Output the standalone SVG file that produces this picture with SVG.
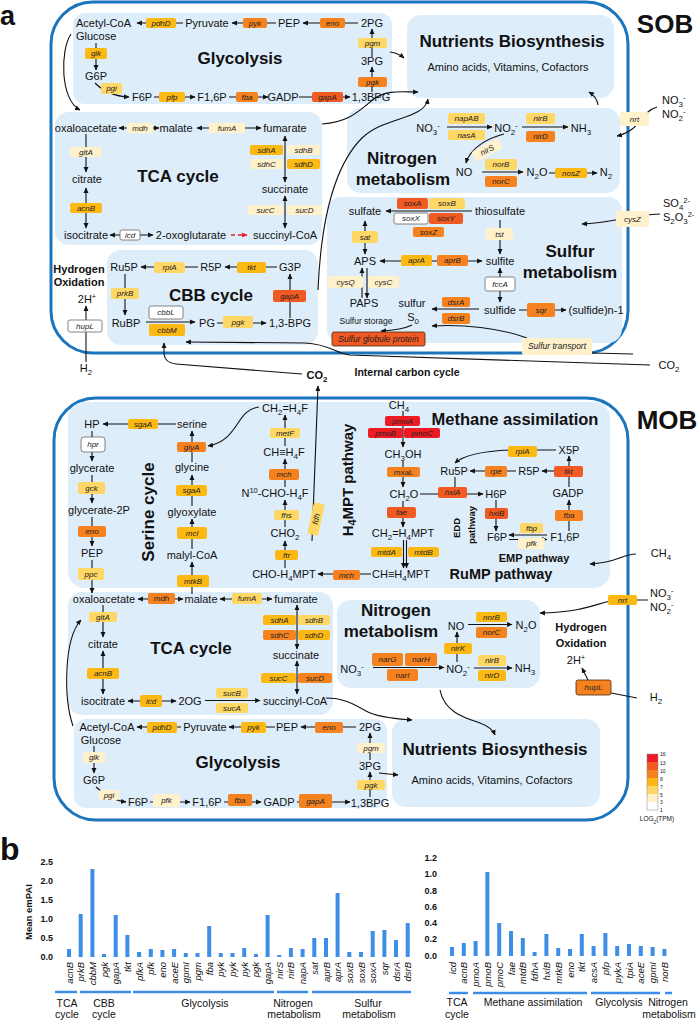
<svg xmlns="http://www.w3.org/2000/svg" width="699" height="1021" viewBox="0 0 699 1021">
<defs>
<style>
text{font-family:"Liberation Sans",Arial,sans-serif;fill:#111}
.t{font-size:11px}
.tm{font-size:11px;text-anchor:middle}
.h{font-size:17px;font-weight:bold;text-anchor:middle}
.hs{font-size:11px;font-weight:bold;text-anchor:middle}
.g{font-size:8px;font-style:italic;text-anchor:middle;fill:#222}
.sb{font-size:72%;baseline-shift:-3px}
.sp{font-size:68%;baseline-shift:4px}
.panel{fill:#deedfa}
.outer{fill:none;stroke:#1b75bc;stroke-width:3}
.c16{fill:#ed1c24}.c13{fill:#f15a22}.c10{fill:#f5821f}.c8{fill:#fdb913}.c7{fill:#fed765}.c5{fill:#fff1cc}.c3{fill:#fff;stroke:#666;stroke-width:0.8}
.dk{stroke:#4a2a10;stroke-width:0.8}
.ln{fill:none;stroke:#111;stroke-width:1.1}
.ar{marker-end:url(#a)}
.ab{marker-start:url(#a);marker-end:url(#a)}
.bar{fill:#3d8ee6}
.gl{stroke:#3d8ee6;stroke-width:2.5}
.bl{font-size:9.5px;font-style:italic;text-anchor:end}
.tk{font-size:9px;font-weight:bold;text-anchor:end}
.cat{font-size:10.5px;text-anchor:middle}
.lg{font-size:5px}
</style>
<marker id="a" viewBox="0 0 10 10" refX="9" refY="5" markerWidth="5.5" markerHeight="5.5" markerUnits="userSpaceOnUse" orient="auto-start-reverse"><path d="M0,0.5 L10,5 L0,9.5 z" fill="#111"/></marker>
<marker id="ar" viewBox="0 0 10 10" refX="9" refY="5" markerWidth="5.5" markerHeight="5.5" markerUnits="userSpaceOnUse" orient="auto"><path d="M0,0.5 L10,5 L0,9.5 z" fill="#e8202a"/></marker>
</defs>
<rect width="699" height="1021" fill="#fff"/>
<text x="0" y="24.5" style="font-size:27px;font-weight:bold">a</text>
<text x="665" y="33" style="font-size:26px;font-weight:bold;text-anchor:middle">SOB</text>
<text x="667" y="429" style="font-size:26px;font-weight:bold;text-anchor:middle">MOB</text>

<g id="panels">
<rect class="outer" x="51" y="2" width="577" height="351" rx="42"/>
<rect class="outer" x="54" y="398" width="574" height="422" rx="42"/>
<rect class="panel" x="73" y="13" width="319" height="91" rx="12"/>
<rect class="panel" x="407" y="15" width="207" height="83" rx="14"/>
<rect class="panel" x="55" y="112" width="267" height="133" rx="14"/>
<rect class="panel" x="107" y="250" width="211" height="95" rx="14"/>
<rect class="panel" x="347" y="108" width="273" height="85" rx="14"/>
<rect class="panel" x="327" y="197" width="295" height="146" rx="14"/>
<rect class="panel" x="68" y="402" width="542" height="186" rx="16"/>
<rect class="panel" x="68" y="592" width="265" height="123" rx="14"/>
<rect class="panel" x="337" y="600" width="203" height="88" rx="14"/>
<rect class="panel" x="74" y="719" width="313" height="89" rx="12"/>
<rect class="panel" x="392" y="719" width="208" height="88" rx="14"/>
</g>

<g id="connectors">
<path class="ln ar" d="M183,23 H137"/>
<path class="ln ar" d="M276,23 H232"/>
<path class="ln ar" d="M358,23 H303"/>
<path class="ln ar" d="M372,57 V29"/>
<path class="ln ar" d="M372,92 V67"/>
<path class="ln ar" d="M299,97 H350"/>
<path class="ln ar" d="M229,97 H268"/>
<path class="ln ar" d="M154,97 H195"/>
<path class="ln ar" d="M95,83 Q108,96 129,97"/>
<path class="ln ar" d="M96,43 V70"/>
<path class="ln ar" d="M71,34 C60,50 60,100 80,110"/>
<path class="ln ar" d="M390,52 Q398,53 404,58"/>
<path class="ln ar" d="M322,124 C350,122 360,110 375,98 C388,90 400,92 418,92"/>
<path class="ln ar" d="M318,290 C321,220 335,165 362,138 C385,116 424,120 428,99"/>
<path class="ln ar" d="M598,105 Q597,97 589,92"/>
<path class="ln ar" d="M657,107 C640,112 642,130 617,136"/>
<path class="ln ab" d="M159,128 H119"/>
<path class="ln ab" d="M197,128 H261"/>
<path class="ln ar" d="M86,134 V172"/>
<path class="ln ab" d="M86,188 V228"/>
<path class="ln ab" d="M110,235 H153"/>
<path d="M231,235 H247" fill="none" stroke="#e8202a" stroke-width="1.3" stroke-dasharray="4,3" marker-end="url(#ar)"/>
<path class="ln ab" d="M285,136 V182"/>
<path class="ln ab" d="M285,196 V228"/>
<path class="ln ar" d="M198,267 H141"/>
<path class="ln ar" d="M277,267 H225"/>
<path class="ln ar" d="M290,318 V274"/>
<path class="ln ar" d="M217,323 H266"/>
<path class="ln ar" d="M146,322 H195"/>
<path class="ln ar" d="M125,274 V315"/>
<path class="ln ar" d="M86,362 V306"/>
<path class="ln ar" d="M302,374 L176,364 Q165,363 164,354 L164,343"/>
<path class="ln ar" d="M650,365 L350,355 C336,354 330,344 305,343 L186,342"/>
<path class="ln ar" d="M312,541 L318,386"/>
<path class="ln ar" d="M472,211 H386"/>
<path class="ln ar" d="M500,220 V254"/>
<path class="ln ab" d="M365,221 V254"/>
<path class="ln ab" d="M380,261 H482"/>
<path class="ln ab" d="M500,268 V302"/>
<path class="ln ar" d="M479,309 H432"/>
<path class="ln ar" d="M519,310 H566"/>
<path class="ln ar" d="M362,298 V268"/>
<path class="ln ar" d="M367,268 V298"/>
<path class="ln ar" d="M412,325 Q402,330 381,331"/>
<path class="ln ar" d="M527,338 C500,328 462,324 432,326"/>
<path class="ln" d="M592,353 L633,354"/>
<path class="ln ar" d="M660,214 C630,215 612,223 582,224"/>
<path class="ln ar" d="M447,127 H492"/>
<path class="ln ar" d="M522,127 H568"/>
<path class="ln ar" d="M504,134 C488,138 470,148 466,163"/>
<path class="ln ar" d="M482,172 H523"/>
<path class="ln ar" d="M549,173 H597"/>
<path class="ln ar" d="M176,424 H103"/>
<path class="ln ar" d="M92,431 V461"/>
<path class="ln ar" d="M92,475 V503"/>
<path class="ln ar" d="M92,517 V546"/>
<path class="ln ar" d="M92,560 V593"/>
<path class="ln ar" d="M192,462 V431"/>
<path class="ln ar" d="M192,506 V475"/>
<path class="ln ar" d="M192,549 V519"/>
<path class="ln ar" d="M192,594 V562"/>
<path class="ln ar" d="M259,407 C235,410 240,440 208,446"/>
<path class="ln ar" d="M285,568 V541"/>
<path class="ln ar" d="M285,527 V500"/>
<path class="ln ar" d="M285,487 V459"/>
<path class="ln ar" d="M285,446 V415"/>
<path class="ln ar" d="M371,574 H318"/>
<path class="ln ar" d="M403.5,540 V568"/>
<path class="ln ar" d="M406.5,540 V568"/>
<path class="ln ar" d="M403,411 V447"/>
<path class="ln ar" d="M403,461 V487"/>
<path class="ln ar" d="M403,501 V527"/>
<path class="ln ar" d="M420,494 H483"/>
<path class="ln" d="M455,477 V490"/>
<path class="ln ar" d="M496,500 V531"/>
<path class="ln ar" d="M547,535 H509"/>
<path class="ln ar" d="M509,539.5 H547"/>
<path class="ln ar" d="M569,531 V500"/>
<path class="ln" d="M569,487 V471"/>
<path class="ln ar" d="M556,471 H542"/>
<path class="ln ar" d="M569,466 V456"/>
<path class="ln ar" d="M516,471 H470"/>
<path class="ln ar" d="M556,450 L510,450 C485,451 465,454 455,463"/>
<path class="ln ar" d="M636,554 C622,554 618,563 590,564"/>
<path class="ln ar" d="M648,600 L620,600 C600,600 592,612 540,613"/>
<path class="ln ab" d="M183,599 H138"/>
<path class="ln ab" d="M220,599 H272"/>
<path class="ln ar" d="M103,605 V637"/>
<path class="ln ab" d="M103,651 V694"/>
<path class="ln ab" d="M128,701 H176"/>
<path class="ln ar" d="M205,700.5 H260"/>
<path class="ln ab" d="M297,694 V661"/>
<path class="ln ab" d="M297,649 V605"/>
<path class="ln ar" d="M326,698 C345,698 355,705 368,712 C380,718 400,719 412,720"/>
<path class="ln ar" d="M73,726 C64,700 63,640 81,620"/>
<path class="ln ar" d="M373,667.5 H444"/>
<path class="ln ar" d="M474,668 H512"/>
<path class="ln ar" d="M457,662 V632"/>
<path class="ln ar" d="M468,624.5 H512"/>
<path class="ln ar" d="M440,690 C444,712 465,718 480,723 C488,726 493,730 495,735"/>
<path class="ln ar" d="M588,680 L582,668"/>
<path class="ln" d="M637,698 L611,693"/>
<path class="ln ar" d="M181,727 H137"/>
<path class="ln ar" d="M275,727 H229"/>
<path class="ln ar" d="M356,727 H301"/>
<path class="ln ar" d="M370,760 V733"/>
<path class="ln ar" d="M370,797 V772"/>
<path class="ln ar" d="M379,773 L398,775"/>
<path class="ln ar" d="M297,802 H350"/>
<path class="ln ar" d="M224,802 H261"/>
<path class="ln ar" d="M150,802 H190"/>
<path class="ln ar" d="M96,787 Q110,800 126,802"/>
<path class="ln ar" d="M94,746 V773"/>
</g>

<g id="sob-glycolysis">
<text class="h" x="240" y="64">Glycolysis</text>
<text class="t" x="76" y="27">Acetyl-CoA</text>
<text class="tm" x="207" y="27">Pyruvate</text>
<text class="tm" x="289" y="27">PEP</text>
<text class="tm" x="372" y="27">2PG</text>
<text class="tm" x="372" y="65">3PG</text>
<text class="tm" x="371" y="101">1,3BPG</text>
<text class="t" x="76" y="40">Glucose</text>
<text class="tm" x="96" y="80">G6P</text>
<text class="tm" x="142" y="101">F6P</text>
<text class="tm" x="212" y="101">F1,6P</text>
<text class="tm" x="283" y="101">GADP</text>
<g id="sob-pdhD"><rect class="c8" x="146" y="18" width="30" height="10" rx="2"/><text class="g" x="161" y="25.8">pdhD</text></g>
<g id="sob-pyk"><rect class="c10" x="243" y="18" width="24" height="10" rx="2"/><text class="g" x="255" y="25.8">pyk</text></g>
<g id="sob-eno"><rect class="c10" x="320" y="18" width="25" height="10" rx="2"/><text class="g" x="332.5" y="25.8">eno</text></g>
<g id="sob-pgm"><rect class="c7" x="358" y="38" width="29" height="10" rx="2"/><text class="g" x="372.5" y="45.8">pgm</text></g>
<g id="sob-pgk"><rect class="c10" x="358" y="77" width="29" height="10" rx="2"/><text class="g" x="372.5" y="84.8">pgk</text></g>
<g id="sob-glk"><rect class="c8" x="85" y="48" width="22" height="11" rx="2"/><text class="g" x="96" y="56.3">glk</text></g>
<g id="sob-pgi"><rect class="c7" x="101" y="83" width="21" height="11" rx="2"/><text class="g" x="111.5" y="91.3">pgi</text></g>
<g id="sob-pfp"><rect class="c8" x="159" y="92" width="26" height="10" rx="2"/><text class="g" x="172" y="99.8">pfp</text></g>
<g id="sob-fba"><rect class="c10" x="236" y="92" width="22" height="10" rx="2"/><text class="g" x="247" y="99.8">fba</text></g>
<g id="sob-gapA"><rect class="c13" x="312" y="92" width="31" height="10" rx="2"/><text class="g" x="327.5" y="99.8">gapA</text></g>
</g>

<g id="sob-nutrients">
<text class="h" x="512" y="47">Nutrients Biosynthesis</text>
<text class="tm" x="508" y="71">Amino acids, Vitamins, Cofactors</text>
</g>

<g id="sob-tca">
<text class="h" x="178" y="182">TCA cycle</text>
<text class="tm" x="86" y="132">oxaloacetate</text>
<text class="tm" x="176" y="132">malate</text>
<text class="tm" x="285" y="132">fumarate</text>
<text class="tm" x="87" y="183">citrate</text>
<text class="tm" x="86" y="239">isocitrate</text>
<text class="tm" x="191" y="239">2-oxoglutarate</text>
<text class="tm" x="285" y="239">succinyl-CoA</text>
<text class="tm" x="285" y="193">succinate</text>
<g id="sob-mdh"><rect class="c5" x="127" y="123" width="26" height="10" rx="2"/><text class="g" x="140" y="130.8">mdh</text></g>
<g id="sob-fumA"><rect class="c5" x="209" y="123" width="36" height="10" rx="2"/><text class="g" x="227" y="130.8">fumA</text></g>
<g id="sob-gltA"><rect class="c5" x="70" y="147" width="32" height="10" rx="2"/><text class="g" x="86" y="154.8">gltA</text></g>
<g id="sob-acnB"><rect class="c8" x="70" y="203" width="32" height="10" rx="2"/><text class="g" x="86" y="210.8">acnB</text></g>
<g id="sob-icd"><rect class="c3" x="120" y="230" width="20" height="10" rx="2"/><text class="g" x="130" y="237.8">icd</text></g>
<g id="sob-sdh"><rect class="c8" x="250" y="145" width="33" height="10" rx="2"/><text class="g" x="266.5" y="152.8">sdhA</text>
<rect class="c5" x="287" y="145" width="33" height="10" rx="2"/><text class="g" x="303.5" y="152.8">sdhB</text>
<rect class="c5" x="250" y="159" width="33" height="10" rx="2"/><text class="g" x="266.5" y="166.8">sdhC</text>
<rect class="c8" x="287" y="159" width="33" height="10" rx="2"/><text class="g" x="303.5" y="166.8">sdhD</text></g>
<g id="sob-suc"><rect class="c5" x="248" y="205" width="35" height="10" rx="2"/><text class="g" x="265.5" y="212.8">sucC</text>
<rect class="c5" x="287" y="205" width="35" height="10" rx="2"/><text class="g" x="304.5" y="212.8">sucD</text></g>
</g>

<g id="sob-cbb">
<text class="h" x="211" y="301">CBB cycle</text>
<text class="tm" x="124" y="271">Ru5P</text>
<text class="tm" x="211" y="271">R5P</text>
<text class="tm" x="290" y="271">G3P</text>
<text class="tm" x="290" y="327">1,3-BPG</text>
<text class="tm" x="207" y="327">PG</text>
<text class="tm" x="126" y="327">RuBP</text>
<g id="sob-rpiA"><rect class="c7" x="154" y="262" width="31" height="11" rx="2"/><text class="g" x="169.5" y="270.3">rpiA</text></g>
<g id="sob-tkt"><rect class="c8" x="237" y="262" width="29" height="11" rx="2"/><text class="g" x="251.5" y="270.3">tkt</text></g>
<g id="sob-gapA2"><rect class="c13" x="273" y="290" width="33" height="12" rx="2"/><text class="g" x="289.5" y="298.8">gapA</text></g>
<g id="sob-pgk2"><rect class="c7" x="223" y="316" width="30" height="12" rx="2"/><text class="g" x="238" y="324.8">pgk</text></g>
<g id="sob-cbbL"><rect class="c3" x="149" y="306" width="34" height="13" rx="2"/><text class="g" x="166" y="315.3">cbbL</text></g>
<g id="sob-cbbM"><rect class="c8" x="149" y="324" width="36" height="12" rx="2"/><text class="g" x="167" y="332.8">cbbM</text></g>
<g id="sob-prkB"><rect class="c7" x="111" y="288" width="28" height="11" rx="2"/><text class="g" x="125" y="296.3">prkB</text></g>
</g>

<g id="sob-hydrogen">
<text class="hs" x="79" y="273">Hydrogen</text>
<text class="hs" x="79" y="286">Oxidation</text>
<text class="tm" x="87" y="303">2H<tspan class="sp">+</tspan></text>
<text class="tm" x="86" y="372">H<tspan class="sb">2</tspan></text>
<g id="sob-hupL"><rect class="c3" x="68" y="320" width="34" height="12" rx="2"/><text class="g" x="85" y="328.8">hupL</text></g>
</g>

<g id="carbon">
<text class="hs" x="317" y="379">CO<tspan class="sb">2</tspan></text>
<text class="hs" x="407" y="376" style="font-size:10.5px">Internal carbon cycle</text>
<text class="tm" x="669" y="369">CO<tspan class="sb">2</tspan></text>
</g>

<g id="sob-nitrogen">
<text class="h" x="402" y="164">Nitrogen</text>
<text class="h" x="403" y="185">metabolism</text>
<text class="tm" x="428" y="132">NO<tspan class="sb">3</tspan><tspan class="sp">-</tspan></text>
<text class="tm" x="506" y="132">NO<tspan class="sb">2</tspan><tspan class="sp">-</tspan></text>
<text class="tm" x="581" y="132">NH<tspan class="sb">3</tspan></text>
<text class="tm" x="464" y="176">NO</text>
<text class="tm" x="537" y="176">N<tspan class="sb">2</tspan>O</text>
<text class="tm" x="606" y="176">N<tspan class="sb">2</tspan></text>
<text class="t" x="662" y="104">NO<tspan class="sb">3</tspan><tspan class="sp">-</tspan></text>
<text class="t" x="662" y="118">NO<tspan class="sb">2</tspan><tspan class="sp">-</tspan></text>
<g id="sob-napAB"><rect class="c7" x="448" y="113" width="37" height="11" rx="2"/><text class="g" x="466.5" y="121.3">napAB</text></g>
<g id="sob-nasA"><rect class="c7" x="448" y="130" width="37" height="10" rx="2"/><text class="g" x="466.5" y="137.8">nasA</text></g>
<g id="sob-nirB"><rect class="c7" x="526" y="113" width="29" height="11" rx="2"/><text class="g" x="540.5" y="121.3">nirB</text></g>
<g id="sob-nirD"><rect class="c10" x="526" y="131" width="29" height="11" rx="2"/><text class="g" x="540.5" y="139.3">nirD</text></g>
<g id="sob-nirS" transform="translate(487,150) rotate(-28)"><rect class="c5" x="-15" y="-5.5" width="30" height="11" rx="2"/><text class="g" x="0" y="2.8">nirS</text></g>
<g id="sob-norB"><rect class="c7" x="485" y="159" width="32" height="11" rx="2"/><text class="g" x="501" y="167.3">norB</text></g>
<g id="sob-norC"><rect class="c10" x="485" y="176" width="32" height="11" rx="2"/><text class="g" x="501" y="184.3">norC</text></g>
<g id="sob-nosZ"><rect class="c8" x="555" y="168" width="32" height="10" rx="2"/><text class="g" x="571" y="175.8">nosZ</text></g>
<g id="sob-nrt"><rect class="c5" x="620" y="112" width="29" height="14" rx="2"/><text class="g" x="634.5" y="121.8">nrt</text></g>
</g>

<g id="sob-sulfur">
<text class="h" x="570" y="257">Sulfur</text>
<text class="h" x="570" y="278">metabolism</text>
<text class="tm" x="365" y="215">sulfate</text>
<text class="tm" x="500" y="215">thiosulfate</text>
<text class="tm" x="500" y="265">sulfite</text>
<text class="tm" x="365" y="265">APS</text>
<text class="tm" x="364" y="307">PAPS</text>
<text class="tm" x="412" y="307">sulfur</text>
<text class="tm" x="413" y="321">S<tspan class="sb">0</tspan></text>
<text class="tm" x="500" y="314">sulfide</text>
<text class="tm" x="596" y="314">(sulfide)n-1</text>
<text x="366" y="324" style="font-size:8.5px;text-anchor:middle">Sulfur storage</text>
<text class="t" x="663" y="207">SO<tspan class="sb">4</tspan><tspan class="sp">2-</tspan></text>
<text class="t" x="663" y="221">S<tspan class="sb">2</tspan>O<tspan class="sb">3</tspan><tspan class="sp">2-</tspan></text>
<g id="sob-soxA"><rect class="c13" x="397" y="198" width="31" height="11" rx="2"/><text class="g" x="412.5" y="206.3">soxA</text></g>
<g id="sob-soxB"><rect class="c7" x="429" y="198" width="36" height="11" rx="2"/><text class="g" x="447" y="206.3">soxB</text></g>
<g id="sob-soxX"><rect class="c3" x="394" y="213" width="34" height="11" rx="2"/><text class="g" x="411" y="221.3">soxX</text></g>
<g id="sob-soxY"><rect class="c13" x="429" y="213" width="34" height="11" rx="2"/><text class="g" x="446" y="221.3">soxY</text></g>
<g id="sob-soxZ"><rect class="c10" x="413" y="227" width="31" height="10" rx="2"/><text class="g" x="428.5" y="234.8">soxZ</text></g>
<g id="sob-tst"><rect class="c5" x="486" y="228" width="27" height="12" rx="2"/><text class="g" x="499.5" y="236.8">tst</text></g>
<g id="sob-sat"><rect class="c7" x="352" y="231" width="26" height="12" rx="2"/><text class="g" x="365" y="239.8">sat</text></g>
<g id="sob-aprA"><rect class="c8" x="401" y="255" width="31" height="11" rx="2"/><text class="g" x="416.5" y="263.3">aprA</text></g>
<g id="sob-aprB"><rect class="c10" x="437" y="255" width="31" height="11" rx="2"/><text class="g" x="452.5" y="263.3">aprB</text></g>
<g id="sob-fccA"><rect class="c3" x="485" y="277" width="30" height="14" rx="2"/><text class="g" x="500" y="286.8">fccA</text></g>
<g id="sob-cysQ"><rect class="c5" x="328" y="276" width="35" height="12" rx="2"/><text class="g" x="345.5" y="284.8">cysQ</text></g>
<g id="sob-cysC"><rect class="c5" x="368" y="276" width="31" height="12" rx="2"/><text class="g" x="383.5" y="284.8">cysC</text></g>
<g id="sob-dsrA"><rect class="c10" x="442" y="297" width="28" height="10" rx="2"/><text class="g" x="456" y="304.8">dsrA</text></g>
<g id="sob-dsrB"><rect class="c10" x="442" y="313" width="28" height="11" rx="2"/><text class="g" x="456" y="321.3">dsrB</text></g>
<g id="sob-sqr"><rect class="c10" x="527" y="303" width="28" height="14" rx="2"/><text class="g" x="541" y="312.8">sqr</text></g>
<g id="sob-globule"><rect class="c13 dk" x="332" y="332" width="93" height="14" rx="2"/><text class="g" x="378.5" y="342" style="font-size:8.5px">Sulfur globule protein</text></g>
<g id="sob-cysZ"><rect class="c5" x="616" y="211" width="33" height="16" rx="2"/><text class="g" x="632.5" y="221.8">cysZ</text></g>
<g id="sob-transport"><rect class="c5" x="522" y="338" width="70" height="17" rx="2"/><text class="g" x="557" y="349.3" style="font-size:8.5px">Sulfur transport</text></g>
</g>

<g id="mob-serine">
<text class="h" transform="translate(154,512) rotate(-90)">Serine cycle</text>
<text class="tm" x="92" y="428">HP</text>
<text class="tm" x="192" y="428">serine</text>
<text class="tm" x="92" y="472">glycerate</text>
<text class="tm" x="99" y="514">glycerate-2P</text>
<text class="tm" x="92" y="557">PEP</text>
<text class="tm" x="192" y="471">glycine</text>
<text class="tm" x="192" y="516">glyoxylate</text>
<text class="tm" x="192" y="559">malyl-CoA</text>
<g id="mob-sgaA"><rect class="c8" x="128" y="419" width="30" height="10" rx="2"/><text class="g" x="143" y="426.8">sgaA</text></g>
<g id="mob-hpr"><rect class="c3" x="81" y="437" width="24" height="15" rx="3"/><text class="g" x="93" y="447.3">hpr</text></g>
<g id="mob-gck"><rect class="c7" x="78" y="482" width="27" height="12" rx="2"/><text class="g" x="91.5" y="490.8">gck</text></g>
<g id="mob-eno"><rect class="c10" x="78" y="526" width="28" height="11" rx="2"/><text class="g" x="92" y="534.3">eno</text></g>
<g id="mob-ppc"><rect class="c7" x="78" y="568" width="26" height="12" rx="2"/><text class="g" x="91" y="576.8">ppc</text></g>
<g id="mob-glyA"><rect class="c10" x="177" y="442" width="29" height="10" rx="2"/><text class="g" x="191.5" y="449.8">glyA</text></g>
<g id="mob-sgaA2"><rect class="c8" x="176" y="485" width="31" height="11" rx="2"/><text class="g" x="191.5" y="493.3">sgaA</text></g>
<g id="mob-mcl"><rect class="c8" x="177" y="527" width="30" height="12" rx="2"/><text class="g" x="192" y="535.8">mcl</text></g>
<g id="mob-mtkB"><rect class="c8" x="177" y="575" width="32" height="12" rx="2"/><text class="g" x="193" y="583.8">mtkB</text></g>
</g>

<g id="mob-h4mpt">
<text class="h" transform="translate(353,480) rotate(-90)" style="font-size:15px">H<tspan class="sb">4</tspan>MPT pathway</text>
<text class="tm" x="285" y="412">CH<tspan class="sb">2</tspan>=H<tspan class="sb">4</tspan>F</text>
<text class="tm" x="284" y="456">CH≡H<tspan class="sb">4</tspan>F</text>
<text class="tm" x="275" y="497">N<tspan class="sp">10</tspan>-CHO-H<tspan class="sb">4</tspan>F</text>
<text class="tm" x="285" y="537">CHO<tspan class="sb">2</tspan></text>
<text class="tm" x="284" y="578">CHO-H<tspan class="sb">4</tspan>MPT</text>
<text class="tm" x="401" y="578">CH≡H<tspan class="sb">4</tspan>MPT</text>
<g id="mob-metF"><rect class="c7" x="270" y="428" width="30" height="10" rx="2"/><text class="g" x="285" y="435.8">metF</text></g>
<g id="mob-mch"><rect class="c10" x="269" y="469" width="30" height="11" rx="2"/><text class="g" x="284" y="477.3">mch</text></g>
<g id="mob-fhs"><rect class="c7" x="274" y="510" width="25" height="10" rx="2"/><text class="g" x="286.5" y="517.8">fhs</text></g>
<g id="mob-ftr"><rect class="c8" x="275" y="550" width="23" height="10" rx="2"/><text class="g" x="286.5" y="557.8">ftr</text></g>
<g id="mob-fdh" transform="translate(316,519) rotate(-78)"><rect class="c7" x="-16" y="-5.5" width="32" height="11" rx="2"/><text class="g" x="0" y="2.8">fdh</text></g>
<g id="mob-mch2"><rect class="c10" x="333" y="570" width="27" height="10" rx="2"/><text class="g" x="346.5" y="577.8">mch</text></g>
</g>

<g id="mob-methane">
<text class="h" x="515" y="425" style="font-size:16.5px">Methane assimilation</text>
<text class="tm" x="399" y="409">CH<tspan class="sb">4</tspan></text>
<text class="tm" x="403" y="458">CH<tspan class="sb">3</tspan>OH</text>
<text class="tm" x="404" y="498">CH<tspan class="sb">2</tspan>O</text>
<text class="tm" x="403" y="537">CH<tspan class="sb">2</tspan>=H<tspan class="sb">4</tspan>MPT</text>
<text class="tm" x="454" y="475">Ru5P</text>
<text class="tm" x="529" y="475">R5P</text>
<text class="tm" x="569" y="454">X5P</text>
<text class="tm" x="496" y="498">H6P</text>
<text class="tm" x="568" y="497">GADP</text>
<text class="tm" x="497" y="541">F6P</text>
<text class="tm" x="565" y="541">F1,6P</text>
<text class="hs" transform="translate(460,528) rotate(-90)" style="font-size:9.5px">EDD</text>
<text class="hs" transform="translate(475,525) rotate(-90)" style="font-size:9.5px">pathway</text>
<text class="hs" x="534" y="562">EMP pathway</text>
<text class="h" x="501" y="579" style="font-size:14.5px">RuMP pathway</text>
<text class="tm" x="661" y="557">CH<tspan class="sb">4</tspan></text>
<text class="t" x="650" y="597">NO<tspan class="sb">3</tspan><tspan class="sp">-</tspan></text>
<text class="t" x="650" y="611">NO<tspan class="sb">2</tspan><tspan class="sp">-</tspan></text>
<g id="mob-pmo"><rect class="c16" x="385" y="416" width="35" height="10" rx="2"/><text class="g" x="402.5" y="423.8">pmoA</text>
<rect class="c16" x="368" y="428" width="35" height="10" rx="2"/><text class="g" x="385.5" y="435.8">pmoB</text>
<rect class="c16" x="404" y="428" width="36" height="10" rx="2"/><text class="g" x="422" y="435.8">pmoC</text></g>
<g id="mob-mxaL"><rect class="c10" x="387" y="467" width="33" height="10" rx="2"/><text class="g" x="403.5" y="474.8">mxaL</text></g>
<g id="mob-fae"><rect class="c13" x="387" y="507" width="29" height="11" rx="2"/><text class="g" x="401.5" y="515.3">fae</text></g>
<g id="mob-mtd"><rect class="c8" x="371" y="547" width="31" height="10" rx="2"/><text class="g" x="386.5" y="554.8">mtdA</text>
<rect class="c8" x="408" y="547" width="31" height="10" rx="2"/><text class="g" x="423.5" y="554.8">mtdB</text></g>
<g id="mob-hxlA"><rect class="c13" x="438" y="487" width="29" height="11" rx="2"/><text class="g" x="452.5" y="495.3">hxlA</text></g>
<g id="mob-hxlB"><rect class="c13" x="485" y="508" width="23" height="11" rx="2"/><text class="g" x="496.5" y="516.3">hxlB</text></g>
<g id="mob-rpe"><rect class="c10" x="485" y="466" width="22" height="11" rx="2"/><text class="g" x="496" y="474.3">rpe</text></g>
<g id="mob-tkt"><rect class="c13" x="554" y="466" width="29" height="11" rx="2"/><text class="g" x="568.5" y="474.3">tkt</text></g>
<g id="mob-rpiA"><rect class="c8" x="508" y="446" width="29" height="11" rx="2"/><text class="g" x="522.5" y="454.3">rpiA</text></g>
<g id="mob-fba"><rect class="c10" x="555" y="510" width="28" height="11" rx="2"/><text class="g" x="569" y="518.3">fba</text></g>
<g id="mob-fbp"><rect class="c7" x="520" y="523" width="23" height="10" rx="2"/><text class="g" x="531.5" y="530.8">fbp</text></g>
<g id="mob-pfk"><rect class="c5" x="518" y="538" width="27" height="11" rx="2"/><text class="g" x="531.5" y="546.3">pfk</text></g>
<g id="mob-nrt"><rect class="c8" x="608" y="595" width="29" height="10" rx="2"/><text class="g" x="622.5" y="602.8">nrt</text></g>
</g>

<g id="mob-tca">
<text class="h" x="191" y="654">TCA cycle</text>
<text class="tm" x="104" y="603">oxaloacetate</text>
<text class="tm" x="201" y="603">malate</text>
<text class="tm" x="296" y="603">fumarate</text>
<text class="tm" x="103" y="648">citrate</text>
<text class="tm" x="103" y="705">isocitrate</text>
<text class="tm" x="190" y="705">2OG</text>
<text class="tm" x="295" y="705">succinyl-CoA</text>
<text class="tm" x="296" y="659">succinate</text>
<g id="mob-mdh"><rect class="c10" x="148" y="593" width="27" height="11" rx="2"/><text class="g" x="161.5" y="601.3">mdh</text></g>
<g id="mob-fumA"><rect class="c7" x="232" y="593" width="30" height="11" rx="2"/><text class="g" x="247" y="601.3">fumA</text></g>
<g id="mob-gltA"><rect class="c7" x="89" y="612" width="28" height="10" rx="2"/><text class="g" x="103" y="619.8">gltA</text></g>
<g id="mob-acnB"><rect class="c8" x="87" y="668" width="32" height="11" rx="2"/><text class="g" x="103" y="676.3">acnB</text></g>
<g id="mob-icd"><rect class="c8" x="140" y="695" width="22" height="12" rx="2"/><text class="g" x="151" y="703.8">icd</text></g>
<g id="mob-sucAB"><rect class="c7" x="216" y="688" width="32" height="10" rx="2"/><text class="g" x="232" y="695.8">sucB</text>
<rect class="c7" x="216" y="703" width="32" height="10" rx="2"/><text class="g" x="232" y="710.8">sucA</text></g>
<g id="mob-sucCD"><rect class="c8" x="261" y="673" width="35" height="10" rx="2"/><text class="g" x="278.5" y="680.8">sucC</text>
<rect class="c10" x="298" y="673" width="34" height="10" rx="2"/><text class="g" x="315" y="680.8">sucD</text></g>
<g id="mob-sdh"><rect class="c8" x="263" y="615" width="33" height="10" rx="2"/><text class="g" x="279.5" y="622.8">sdhA</text>
<rect class="c7" x="298" y="615" width="32" height="10" rx="2"/><text class="g" x="314" y="622.8">sdhB</text>
<rect class="c10" x="263" y="630" width="33" height="10" rx="2"/><text class="g" x="279.5" y="637.8">sdhC</text>
<rect class="c8" x="298" y="630" width="32" height="10" rx="2"/><text class="g" x="314" y="637.8">sdhD</text></g>
</g>

<g id="mob-nitrogen">
<text class="h" x="396" y="616">Nitrogen</text>
<text class="h" x="391" y="637">metabolism</text>
<text class="tm" x="456" y="630">NO</text>
<text class="tm" x="526" y="629">N<tspan class="sb">2</tspan>O</text>
<text class="tm" x="352" y="673">NO<tspan class="sb">3</tspan><tspan class="sp">-</tspan></text>
<text class="tm" x="458" y="673">NO<tspan class="sb">2</tspan><tspan class="sp">-</tspan></text>
<text class="tm" x="525" y="672">NH<tspan class="sb">3</tspan></text>
<g id="mob-norBC"><rect class="c8" x="476" y="612" width="31" height="10" rx="2"/><text class="g" x="491.5" y="619.8">norB</text>
<rect class="c10" x="476" y="627" width="31" height="11" rx="2"/><text class="g" x="491.5" y="635.3">norC</text></g>
<g id="mob-nirK"><rect class="c8" x="444" y="643" width="28" height="11" rx="2"/><text class="g" x="458" y="651.3">nirK</text></g>
<g id="mob-nar"><rect class="c10" x="372" y="653" width="31" height="13" rx="2"/><text class="g" x="387.5" y="662.3">narG</text>
<rect class="c10" x="405" y="653" width="32" height="13" rx="2"/><text class="g" x="421" y="662.3">narH</text>
<rect class="c10" x="387" y="669" width="31" height="12" rx="2"/><text class="g" x="402.5" y="677.8">narI</text></g>
<g id="mob-nirBD"><rect class="c7" x="478" y="655" width="28" height="11" rx="2"/><text class="g" x="492" y="663.3">nirB</text>
<rect class="c8" x="478" y="670" width="28" height="11" rx="2"/><text class="g" x="492" y="678.3">nirD</text></g>
</g>

<g id="mob-hydrogen">
<text class="hs" x="581" y="631">Hydrogen</text>
<text class="hs" x="581" y="647">Oxidation</text>
<text class="tm" x="576" y="664">2H<tspan class="sp">+</tspan></text>
<text class="tm" x="656" y="701">H<tspan class="sb">2</tspan></text>
<g id="mob-hupL"><rect class="c10 dk" x="576" y="680" width="35" height="15" rx="2"/><text class="g" x="593.5" y="690.3">hupL</text></g>
</g>

<g id="mob-glycolysis">
<text class="h" x="238" y="768">Glycolysis</text>
<text class="tm" x="107" y="731">Acetyl-CoA</text>
<text class="tm" x="205" y="731">Pyruvate</text>
<text class="tm" x="287" y="731">PEP</text>
<text class="tm" x="370" y="731">2PG</text>
<text class="tm" x="370" y="770">3PG</text>
<text class="tm" x="370" y="807">1,3BPG</text>
<text class="tm" x="101" y="744">Glucose</text>
<text class="tm" x="94" y="784">G6P</text>
<text class="tm" x="138" y="806">F6P</text>
<text class="tm" x="207" y="806">F1,6P</text>
<text class="tm" x="279" y="806">GADP</text>
<g id="mob-pdhD"><rect class="c8" x="147" y="722" width="30" height="11" rx="2"/><text class="g" x="162" y="730.3">pdhD</text></g>
<g id="mob-pyk"><rect class="c8" x="241" y="722" width="25" height="11" rx="2"/><text class="g" x="253.5" y="730.3">pyk</text></g>
<g id="mob-eno2"><rect class="c10" x="315" y="722" width="28" height="11" rx="2"/><text class="g" x="329" y="730.3">eno</text></g>
<g id="mob-pgm"><rect class="c5" x="357" y="743" width="28" height="10" rx="2"/><text class="g" x="371" y="750.8">pgm</text></g>
<g id="mob-pgk"><rect class="c7" x="357" y="780" width="28" height="10" rx="2"/><text class="g" x="371" y="787.8">pgk</text></g>
<g id="mob-glk"><rect class="c5" x="83" y="752" width="22" height="11" rx="2"/><text class="g" x="94" y="760.3">glk</text></g>
<g id="mob-pgi"><rect class="c5" x="99" y="790" width="20" height="10" rx="2"/><text class="g" x="109" y="797.8">pgi</text></g>
<g id="mob-pfk2"><rect class="c5" x="153" y="794" width="27" height="13" rx="2"/><text class="g" x="166.5" y="803.3">pfk</text></g>
<g id="mob-fba2"><rect class="c10" x="228" y="794" width="24" height="12" rx="2"/><text class="g" x="240" y="802.8">fba</text></g>
<g id="mob-gapA"><rect class="c10" x="299" y="794" width="33" height="14" rx="2"/><text class="g" x="315.5" y="803.8">gapA</text></g>
</g>

<g id="mob-nutrients">
<text class="h" x="495" y="755">Nutrients Biosynthesis</text>
<text class="tm" x="492" y="784">Amino acids, Vitamins, Cofactors</text>
</g>

<g id="legend">
<rect class="c16" x="647" y="754" width="11" height="8"/>
<rect class="c13" x="647" y="762" width="11" height="8"/>
<rect class="c10" x="647" y="770" width="11" height="8"/>
<rect class="c8" x="647" y="778" width="11" height="8"/>
<rect class="c7" x="647" y="786" width="11" height="8"/>
<rect class="c5" x="647" y="794" width="11" height="8"/>
<rect fill="#fff" x="647" y="802" width="11" height="8"/>
<rect x="647" y="754" width="11" height="56" fill="none" stroke="#888" stroke-width="0.5"/>
<text class="lg" x="660" y="756">16</text>
<text class="lg" x="660" y="765">13</text>
<text class="lg" x="660" y="773">10</text>
<text class="lg" x="660" y="781">8</text>
<text class="lg" x="660" y="789">7</text>
<text class="lg" x="660" y="796.5">5</text>
<text class="lg" x="660" y="804">3</text>
<text class="lg" x="660" y="811.5">1</text>
<text x="657" y="821" style="font-size:6.5px;text-anchor:middle">LOG<tspan class="sb">2</tspan>(TPM)</text>
</g>

<g id="chart-b">
<text x="0" y="860" style="font-size:32px;font-weight:bold">b</text>
<text transform="translate(32,912) rotate(-90)" style="font-size:9.5px;font-weight:bold;text-anchor:middle">Mean emPAI</text>
<text class="tk" x="53" y="865">2.5</text>
<text class="tk" x="53" y="884">2.0</text>
<text class="tk" x="53" y="903">1.5</text>
<text class="tk" x="53" y="922">1.0</text>
<text class="tk" x="53" y="941">0.5</text>
<text class="tk" x="53" y="960">0.0</text>
<rect class="bar" x="67" y="949" width="4" height="8"/>
<rect class="bar" x="78.7" y="914" width="4" height="43"/>
<rect class="bar" x="90.4" y="869" width="4" height="88"/>
<rect class="bar" x="102" y="954" width="4" height="3"/>
<rect class="bar" x="113.7" y="915" width="4" height="42"/>
<rect class="bar" x="125.4" y="935" width="4" height="22"/>
<rect class="bar" x="137.1" y="952" width="4" height="5"/>
<rect class="bar" x="148.8" y="949" width="4" height="8"/>
<rect class="bar" x="160.4" y="950" width="4" height="7"/>
<rect class="bar" x="172.1" y="949" width="4" height="8"/>
<rect class="bar" x="183.8" y="953" width="4" height="4"/>
<rect class="bar" x="195.5" y="953" width="4" height="4"/>
<rect class="bar" x="207.2" y="926" width="4" height="31"/>
<rect class="bar" x="218.8" y="953" width="4" height="4"/>
<rect class="bar" x="230.5" y="953" width="4" height="4"/>
<rect class="bar" x="242.2" y="948" width="4" height="9"/>
<rect class="bar" x="253.9" y="954" width="4" height="3"/>
<rect class="bar" x="265.6" y="915" width="4" height="42"/>
<rect class="bar" x="277.2" y="955" width="4" height="2"/>
<rect class="bar" x="288.9" y="948" width="4" height="9"/>
<rect class="bar" x="300.6" y="949" width="4" height="8"/>
<rect class="bar" x="312.3" y="938" width="4" height="19"/>
<rect class="bar" x="324" y="938" width="4" height="19"/>
<rect class="bar" x="335.6" y="893" width="4" height="64"/>
<rect class="bar" x="347.3" y="952" width="4" height="5"/>
<rect class="bar" x="359" y="952" width="4" height="5"/>
<rect class="bar" x="370.7" y="931" width="4" height="26"/>
<rect class="bar" x="382.4" y="930" width="4" height="27"/>
<rect class="bar" x="394" y="940" width="4" height="17"/>
<rect class="bar" x="405.7" y="923" width="4" height="34"/>
<text class="bl" transform="translate(72.5,962) rotate(-90)">acnB</text>
<text class="bl" transform="translate(84.2,962) rotate(-90)">prkB</text>
<text class="bl" transform="translate(95.9,962) rotate(-90)">cbbM</text>
<text class="bl" transform="translate(107.5,962) rotate(-90)">pgk</text>
<text class="bl" transform="translate(119.2,962) rotate(-90)">gapA</text>
<text class="bl" transform="translate(130.9,962) rotate(-90)">tkt</text>
<text class="bl" transform="translate(142.6,962) rotate(-90)">pfkA</text>
<text class="bl" transform="translate(154.3,962) rotate(-90)">pfk</text>
<text class="bl" transform="translate(165.9,962) rotate(-90)">eno</text>
<text class="bl" transform="translate(177.6,962) rotate(-90)">aceE</text>
<text class="bl" transform="translate(189.3,962) rotate(-90)">gpmI</text>
<text class="bl" transform="translate(201,962) rotate(-90)">pgm</text>
<text class="bl" transform="translate(212.7,962) rotate(-90)">fba</text>
<text class="bl" transform="translate(224.3,962) rotate(-90)">pyk</text>
<text class="bl" transform="translate(236,962) rotate(-90)">pyk</text>
<text class="bl" transform="translate(247.7,962) rotate(-90)">pyk</text>
<text class="bl" transform="translate(259.4,962) rotate(-90)">pgk</text>
<text class="bl" transform="translate(271.1,962) rotate(-90)">gapA</text>
<text class="bl" transform="translate(282.7,962) rotate(-90)">nirS</text>
<text class="bl" transform="translate(294.4,962) rotate(-90)">nirB</text>
<text class="bl" transform="translate(306.1,962) rotate(-90)">napA</text>
<text class="bl" transform="translate(317.8,962) rotate(-90)">sat</text>
<text class="bl" transform="translate(329.5,962) rotate(-90)">aprB</text>
<text class="bl" transform="translate(341.1,962) rotate(-90)">aprA</text>
<text class="bl" transform="translate(352.8,962) rotate(-90)">soxB</text>
<text class="bl" transform="translate(364.5,962) rotate(-90)">soxB</text>
<text class="bl" transform="translate(376.2,962) rotate(-90)">soxA</text>
<text class="bl" transform="translate(387.9,962) rotate(-90)">sqr</text>
<text class="bl" transform="translate(399.5,962) rotate(-90)">dsrA</text>
<text class="bl" transform="translate(411.2,962) rotate(-90)">dsrB</text>
<line class="gl" x1="55" y1="992" x2="77" y2="992"/>
<line class="gl" x1="80" y1="992" x2="131" y2="992"/>
<line class="gl" x1="133" y1="992" x2="274" y2="992"/>
<line class="gl" x1="277" y1="992" x2="308" y2="992"/>
<line class="gl" x1="312" y1="992" x2="411" y2="992"/>
<text class="cat" x="67" y="1007">TCA</text>
<text class="cat" x="67" y="1018">cycle</text>
<text class="cat" x="104" y="1007">CBB</text>
<text class="cat" x="104" y="1018">cycle</text>
<text class="cat" x="205" y="1007">Glycolysis</text>
<text class="cat" x="293" y="1007">Nitrogen</text>
<text class="cat" x="294" y="1018">metabolism</text>
<text class="cat" x="368" y="1007">Sulfur</text>
<text class="cat" x="369" y="1018">metabolism</text>

<text class="tk" x="437" y="861">1.2</text>
<text class="tk" x="437" y="877">1.0</text>
<text class="tk" x="437" y="894">0.8</text>
<text class="tk" x="437" y="910">0.6</text>
<text class="tk" x="437" y="926">0.4</text>
<text class="tk" x="437" y="942">0.2</text>
<text class="tk" x="437" y="959">0.0</text>
<rect class="bar" x="450" y="947" width="4" height="9"/>
<rect class="bar" x="461.8" y="943" width="4" height="13"/>
<rect class="bar" x="473.6" y="941" width="4" height="15"/>
<rect class="bar" x="485.4" y="872" width="4" height="84"/>
<rect class="bar" x="497.2" y="923" width="4" height="33"/>
<rect class="bar" x="509" y="931" width="4" height="25"/>
<rect class="bar" x="520.8" y="938" width="4" height="18"/>
<rect class="bar" x="532.6" y="952" width="4" height="4"/>
<rect class="bar" x="544.4" y="934" width="4" height="22"/>
<rect class="bar" x="556.2" y="948" width="4" height="8"/>
<rect class="bar" x="568" y="949" width="4" height="7"/>
<rect class="bar" x="579.8" y="934" width="4" height="22"/>
<rect class="bar" x="591.6" y="946" width="4" height="10"/>
<rect class="bar" x="603.4" y="933" width="4" height="23"/>
<rect class="bar" x="615.2" y="946" width="4" height="10"/>
<rect class="bar" x="627" y="944" width="4" height="12"/>
<rect class="bar" x="638.8" y="946" width="4" height="10"/>
<rect class="bar" x="650.6" y="947" width="4" height="9"/>
<rect class="bar" x="662.4" y="949" width="4" height="7"/>
<text class="bl" transform="translate(455.5,962) rotate(-90)">icd</text>
<text class="bl" transform="translate(467.3,962) rotate(-90)">acnB</text>
<text class="bl" transform="translate(479.1,962) rotate(-90)">pmoA</text>
<text class="bl" transform="translate(490.9,962) rotate(-90)">pmoB</text>
<text class="bl" transform="translate(502.7,962) rotate(-90)">pmoC</text>
<text class="bl" transform="translate(514.5,962) rotate(-90)">fae</text>
<text class="bl" transform="translate(526.3,962) rotate(-90)">mtdB</text>
<text class="bl" transform="translate(538.1,962) rotate(-90)">fdhA</text>
<text class="bl" transform="translate(549.9,962) rotate(-90)">hxlB</text>
<text class="bl" transform="translate(561.7,962) rotate(-90)">mtkB</text>
<text class="bl" transform="translate(573.5,962) rotate(-90)">eno</text>
<text class="bl" transform="translate(585.3,962) rotate(-90)">tkt</text>
<text class="bl" transform="translate(597.1,962) rotate(-90)">acsA</text>
<text class="bl" transform="translate(608.9,962) rotate(-90)">pfp</text>
<text class="bl" transform="translate(620.7,962) rotate(-90)">pykA</text>
<text class="bl" transform="translate(632.5,962) rotate(-90)">tpiA</text>
<text class="bl" transform="translate(644.3,962) rotate(-90)">aceE</text>
<text class="bl" transform="translate(656.1,962) rotate(-90)">gpmI</text>
<text class="bl" transform="translate(667.9,962) rotate(-90)">norB</text>
<line class="gl" x1="449" y1="993" x2="468" y2="993"/>
<line class="gl" x1="473" y1="993" x2="587" y2="993"/>
<line class="gl" x1="591" y1="993" x2="660" y2="993"/>
<line class="gl" x1="665" y1="993" x2="672" y2="993"/>
<text class="cat" x="457" y="1006">TCA</text>
<text class="cat" x="457" y="1018">cycle</text>
<text class="cat" x="533" y="1006">Methane assimilation</text>
<text class="cat" x="619" y="1006">Glycolysis</text>
<text class="cat" x="668" y="1006">Nitrogen</text>
<text class="cat" x="669" y="1018">metabolism</text>
</g>
</svg>
